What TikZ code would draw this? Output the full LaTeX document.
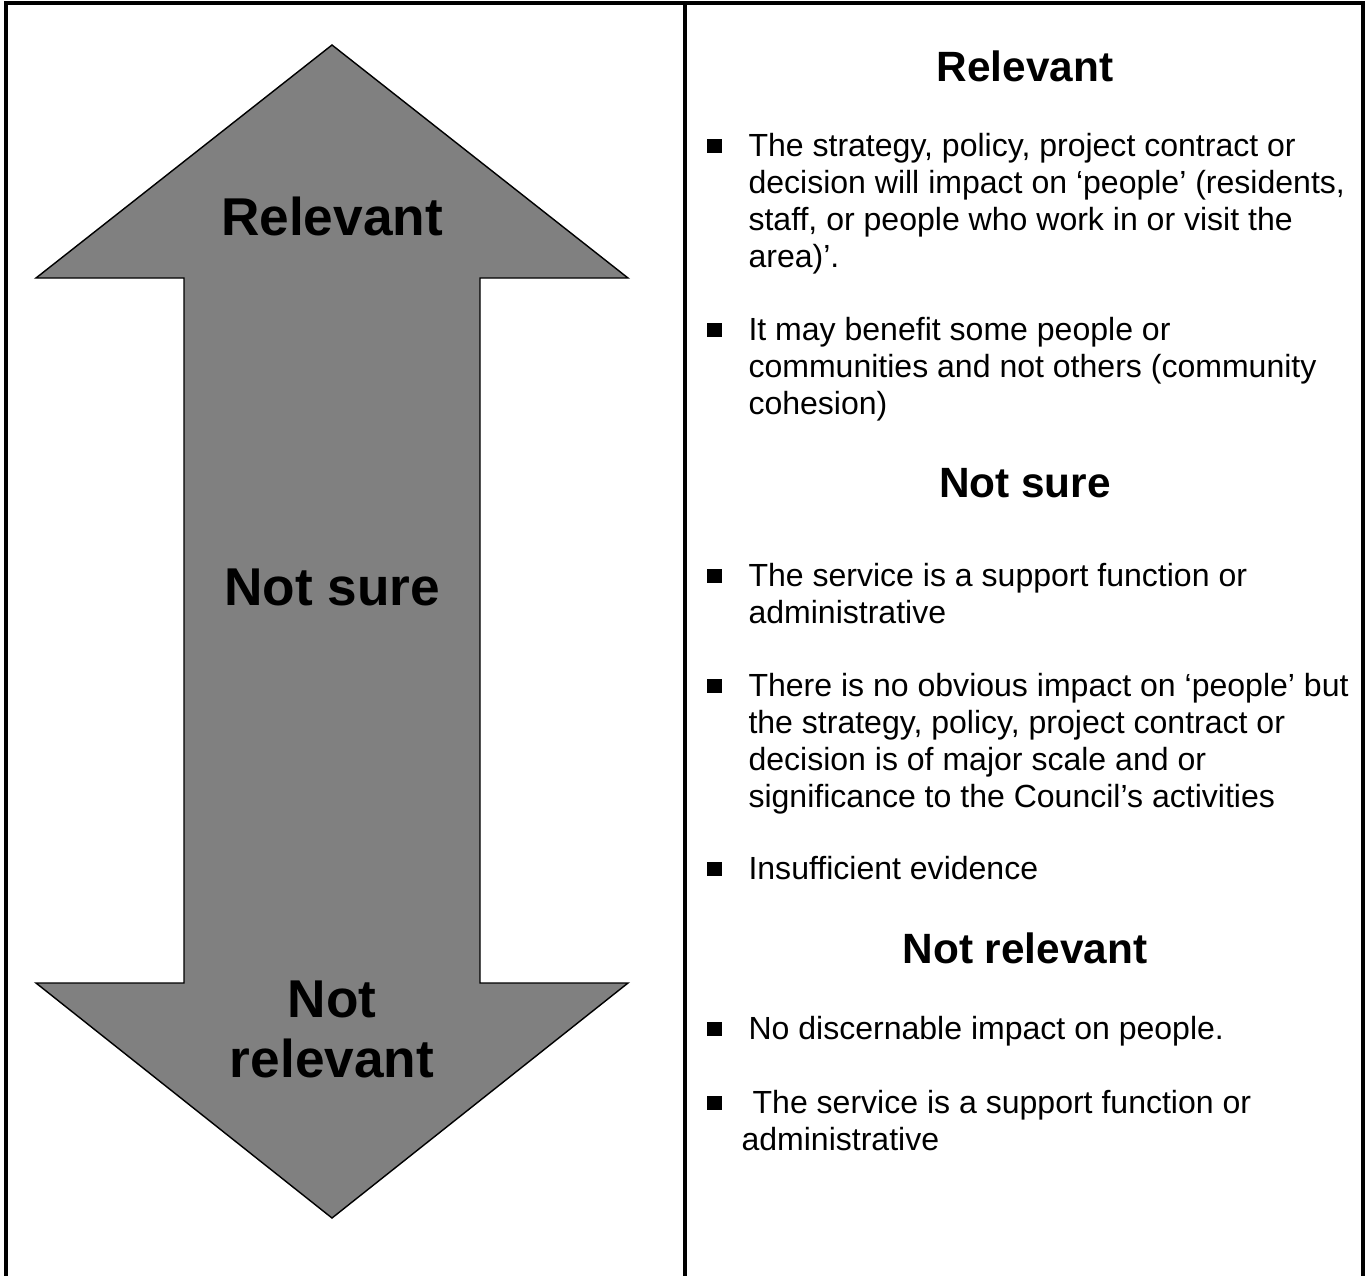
\documentclass[tikz,border=0pt]{standalone}
\usepackage{fontspec,xcolor,tikz}
\setmainfont{Liberation Sans}
\definecolor{ink}{HTML}{000000}
\definecolor{pfeilgrau}{HTML}{808080}
\newcommand{\bodytxt}{\fontsize{12.4}{14.32}\selectfont}
\newcommand{\headtxt}{\fontsize{16.4}{19}\selectfont\bfseries}
\newcommand{\arrowtxt}{\fontsize{20.6}{23.2}\selectfont\bfseries}
\tikzset{rahmen/.style={ink,line width=1.8pt,line cap=rect},
  pfeil/.style={fill=pfeilgrau,draw=ink,line width=0.55pt,line join=miter},
  punkt/.style={fill=ink,inner sep=0,minimum size=5.8pt,anchor=south west},
  zeile/.style={anchor=base west,inner sep=0,align=left,font=\bodytxt,text=ink},
  kopf/.style={anchor=base,inner sep=0,font=\headtxt,text=ink},
  pfeiltext/.style={anchor=base,inner sep=0,align=center,font=\arrowtxt,text=ink}}

\begin{document}
\begin{tikzpicture}[x=0.3871pt,y=-0.3871pt]
\useasboundingbox (0,0) rectangle (1367,1275);
% frame, open at the bottom
\draw[rahmen] (6,1277) -- (6,3) -- (1363,3) -- (1363,1277);
\draw[rahmen] (685,3) -- (685,1277);
% double arrow
\draw[pfeil] (332,45) -- (628,278) -- (480,278) -- (480,983) -- (628,983)
  -- (332,1218) -- (36,983) -- (184,983) -- (184,278) -- (36,278) -- cycle;
\node[pfeiltext] (pRel) at (332,235) {Relevant};
\node[pfeiltext] (pSure) at (332,605) {Not sure};
\node[pfeiltext] (pNot) at (332,1077) {Not\\relevant};
% right column (base = last line)
\node[kopf] (hRel) at (1025,81) {Relevant};
\node[punkt] (b1) at (706,154) {};
\node[zeile] (t1) at (748,267) {The strategy, policy, project contract or\\decision will impact on ‘people’ (residents,\\staff, or people who work in or visit the\\area)’.};
\node[punkt] (b2) at (706,338) {};
\node[zeile] (t2) at (748,414) {It may benefit some people or\\communities and not others (community\\cohesion)};
\node[kopf] (hSure) at (1025,497) {Not sure};
\node[punkt] (b3) at (706,584) {};
\node[zeile] (t3) at (748,623) {The service is a support function or\\administrative};
\node[punkt] (b4) at (706,694) {};
\node[zeile] (t4) at (748,807) {There is no obvious impact on ‘people’ but\\the strategy, policy, project contract or\\decision is of major scale and or\\significance to the Council’s activities};
\node[punkt] (b5) at (706,877) {};
\node[zeile] (t5) at (748,879) {Insufficient evidence};
\node[kopf] (hNot) at (1025,963) {Not relevant};
\node[punkt] (b6) at (706,1037) {};
\node[zeile] (t6) at (748,1039) {No discernable impact on people.};
\node[punkt] (b7) at (706,1111) {};
\node[zeile] (t7) at (741,1150) {\hspace*{4.3pt}The service is a support function or\\administrative};
\end{tikzpicture}
\end{document}
